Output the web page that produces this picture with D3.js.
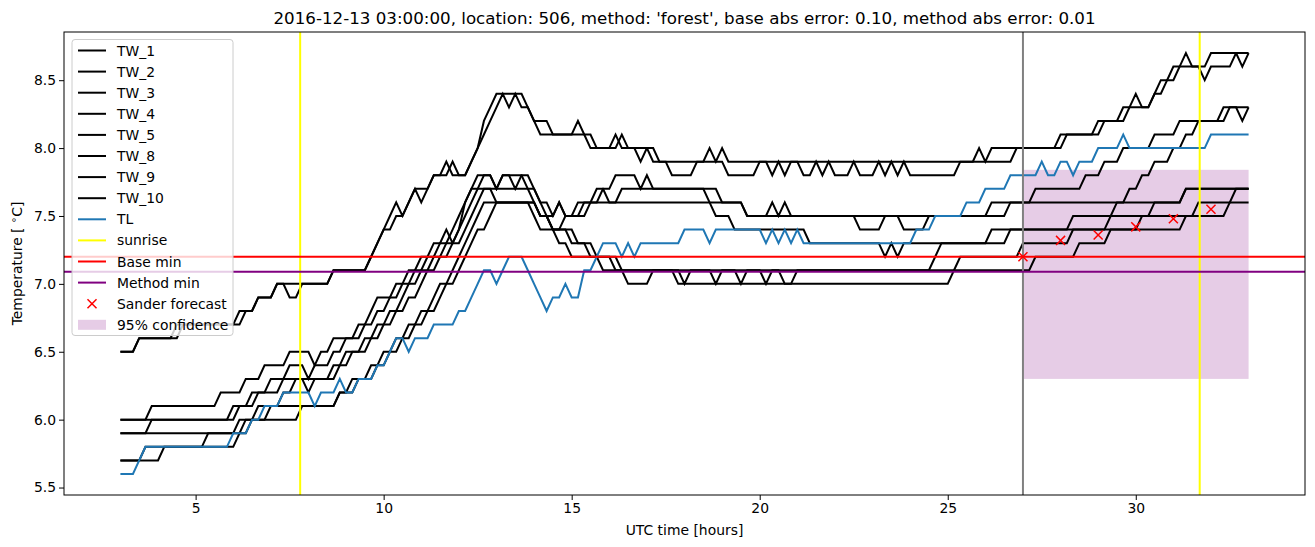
<!DOCTYPE html>
<html>
<head>
<meta charset="utf-8">
<script src="https://cdn.jsdelivr.net/npm/d3@7"></script>
<style>
  body { margin: 0; background: #fff; }
  svg { font-family: "DejaVu Sans", sans-serif; }
</style>
</head>
<body>
<svg id="chart" width="1315" height="547"></svg>
<script>
// step runs: [hour where value is reached, value]
var tw1 = [[3,6.5],[3.5,6.6],[4.5,6.7],[6.17,6.8],[6.67,6.9],[7.17,7.0],[8.67,7.1],[9.67,7.2],[9.83,7.3],[10.0,7.4],[10.17,7.5],[10.33,7.6],[10.5,7.5],[10.67,7.6],[10.83,7.7],[11.33,7.8],[11.67,7.9],[11.83,7.8],[12.33,7.9],[12.5,8.0],[12.67,8.2],[12.83,8.3],[13.0,8.4],[13.83,8.3],[14.0,8.2],[14.17,8.1],[15.17,8.2],[15.33,8.1],[15.5,8.0],[16.17,8.1],[16.33,8.0],[16.83,7.9],[17.0,8.0],[17.33,7.9],[17.67,7.8],[18.33,7.9],[18.67,8.0],[18.83,7.9],[19.0,8.0],[19.17,7.9],[25.83,8.0],[26.0,7.9],[26.17,8.0],[28.0,8.1],[29.0,8.2],[29.67,8.3],[30.0,8.4],[30.17,8.3],[30.5,8.4],[30.67,8.5],[31.0,8.6],[31.33,8.7],[31.5,8.6],[32.0,8.7],[32.83,8.6],[33.0,8.7]];
var tw2 = [[3,6.5],[3.5,6.6],[4.67,6.7],[6.33,6.8],[6.67,6.9],[7.17,7.0],[7.5,6.9],[7.83,7.0],[8.67,7.1],[9.67,7.2],[9.83,7.3],[10.0,7.4],[10.33,7.5],[10.67,7.6],[10.83,7.7],[11.0,7.6],[11.17,7.7],[11.33,7.8],[11.83,7.9],[12.0,7.8],[12.33,7.9],[12.5,8.0],[12.67,8.1],[12.83,8.2],[13.0,8.3],[13.17,8.4],[13.33,8.3],[13.5,8.4],[13.67,8.3],[14.0,8.2],[14.5,8.1],[15.67,8.0],[16.33,8.1],[16.5,8.0],[17.17,7.9],[19.17,7.8],[20.0,7.9],[20.33,7.8],[20.5,7.9],[20.67,7.8],[20.83,7.9],[21.17,7.8],[21.5,7.9],[21.67,7.8],[21.83,7.9],[22.0,7.8],[22.5,7.9],[22.67,7.8],[23.17,7.9],[23.33,7.8],[23.5,7.9],[23.67,7.8],[23.83,7.9],[24.0,7.8],[25.33,7.9],[26.83,8.0],[28.17,8.1],[29.17,8.2],[29.83,8.3],[30.5,8.4],[30.83,8.5],[31.17,8.6],[31.83,8.5],[32.0,8.6],[32.67,8.7]];
var tw3 = [[3,6.0],[3.83,6.1],[5.67,6.2],[6.33,6.3],[6.83,6.4],[7.5,6.5],[8.17,6.4],[8.33,6.5],[8.67,6.6],[9.33,6.7],[9.67,6.8],[9.83,6.9],[10.33,7.0],[10.67,7.1],[11.0,7.2],[11.33,7.3],[11.67,7.4],[11.83,7.3],[12.0,7.4],[12.17,7.6],[12.33,7.7],[12.5,7.8],[13.0,7.7],[13.17,7.8],[13.5,7.7],[13.67,7.8],[14.0,7.7],[14.17,7.6],[14.5,7.5],[14.67,7.6],[14.83,7.5],[15.33,7.6],[15.83,7.7],[16.17,7.8],[16.83,7.7],[17.0,7.8],[17.17,7.7],[19.0,7.6],[19.67,7.5],[20.33,7.6],[20.5,7.5],[20.67,7.6],[20.83,7.5],[26.17,7.6],[27.33,7.7],[28.67,7.8],[29.17,7.9],[29.67,8.0],[30.5,8.1],[31.17,8.2],[32.33,8.3],[32.83,8.2],[33.0,8.3]];
var tw4 = [[3,6.0],[6.0,6.1],[6.5,6.2],[7.0,6.3],[7.5,6.4],[8.0,6.3],[8.17,6.4],[8.67,6.5],[9.0,6.6],[9.5,6.7],[9.83,6.8],[10.17,6.9],[10.5,7.0],[10.83,7.1],[11.17,7.2],[11.5,7.3],[11.83,7.4],[12.0,7.5],[12.17,7.6],[12.33,7.7],[12.67,7.8],[13.0,7.7],[13.17,7.8],[13.83,7.7],[14.17,7.6],[14.33,7.5],[14.67,7.6],[14.83,7.5],[15.5,7.6],[19.67,7.5],[22.67,7.4],[23.33,7.5],[23.83,7.4],[24.5,7.5],[26.67,7.6],[29.83,7.7],[30.17,7.8],[30.5,7.9],[31.0,8.0],[31.33,8.1],[31.67,8.2],[32.5,8.3]];
var tw5 = [[3,5.9],[3.83,6.0],[6.17,6.1],[6.67,6.2],[7.33,6.3],[8.67,6.4],[9.0,6.5],[9.5,6.6],[9.83,6.7],[10.17,6.8],[10.5,6.9],[10.67,7.0],[11.0,7.1],[11.33,7.2],[11.67,7.3],[12.0,7.4],[12.17,7.5],[12.33,7.6],[12.5,7.7],[14.0,7.6],[14.17,7.5],[14.5,7.4],[14.83,7.5],[15.17,7.6],[15.67,7.7],[16.0,7.6],[16.33,7.7],[18.67,7.6],[18.83,7.5],[19.33,7.4],[21.33,7.3],[23.33,7.2],[23.5,7.3],[23.67,7.2],[23.83,7.3],[26.17,7.4],[31.33,7.5],[32.5,7.6]];
var tw8 = [[3,5.9],[6.17,6.0],[6.67,6.1],[7.33,6.2],[7.67,6.3],[8.0,6.2],[8.17,6.3],[8.83,6.4],[9.17,6.5],[9.67,6.6],[10.0,6.7],[10.33,6.8],[10.67,6.9],[11.0,7.0],[11.17,7.1],[11.5,7.2],[11.83,7.3],[12.17,7.4],[12.33,7.5],[12.5,7.6],[12.67,7.7],[13.0,7.6],[14.0,7.5],[14.17,7.4],[15.0,7.3],[15.5,7.2],[16.17,7.1],[18.0,7.0],[18.17,7.1],[18.83,7.0],[19.0,7.1],[19.5,7.0],[19.67,7.1],[20.17,7.0],[20.33,7.1],[20.67,7.0],[21.0,7.1],[24.67,7.2],[24.83,7.3],[26.67,7.4],[28.33,7.5],[29.5,7.6],[31.33,7.7]];
var tw9 = [[3,5.7],[3.67,5.8],[6.17,5.9],[6.5,6.0],[7.0,6.1],[8.83,6.2],[9.17,6.3],[9.67,6.4],[10.0,6.5],[10.33,6.6],[10.67,6.7],[11.0,6.8],[11.33,6.9],[11.5,7.0],[11.83,7.1],[12.0,7.2],[12.17,7.3],[12.33,7.4],[12.5,7.5],[12.67,7.6],[14.17,7.5],[14.5,7.4],[15.17,7.3],[15.67,7.2],[16.33,7.1],[17.83,7.0],[25.17,7.1],[25.33,7.2],[27.0,7.3],[28.33,7.4],[29.33,7.5],[30.5,7.6],[31.33,7.7]];
var tw10 = [[3,5.7],[4.17,5.8],[5.33,5.9],[6.33,6.0],[7.83,6.1],[8.83,6.2],[9.33,6.3],[9.83,6.4],[10.17,6.5],[10.5,6.6],[10.83,6.7],[11.17,6.8],[11.5,6.9],[11.67,7.0],[12.0,7.1],[12.17,7.2],[12.33,7.3],[12.5,7.4],[12.83,7.5],[13.0,7.6],[14.17,7.5],[14.5,7.4],[14.67,7.3],[15.0,7.2],[15.83,7.1],[16.5,7.0],[17.17,7.1],[27.33,7.2],[28.5,7.3],[29.33,7.4],[30.17,7.5],[31.67,7.6],[32.67,7.7]];
var tl = [[3,5.6],[3.5,5.7],[3.67,5.8],[6.0,5.9],[6.5,6.0],[6.83,6.1],[7.33,6.2],[8.17,6.1],[8.33,6.2],[8.83,6.3],[9.0,6.2],[9.33,6.3],[9.83,6.4],[10.17,6.5],[10.33,6.6],[10.67,6.5],[10.83,6.6],[11.33,6.7],[12.0,6.8],[12.33,6.9],[12.5,7.0],[12.67,7.1],[13.0,7.0],[13.17,7.1],[13.33,7.2],[13.83,7.1],[14.0,7.0],[14.17,6.9],[14.33,6.8],[14.5,6.9],[14.83,7.0],[15.0,6.9],[15.33,7.1],[15.67,7.2],[15.83,7.3],[16.33,7.2],[16.5,7.3],[16.67,7.2],[16.83,7.3],[18.0,7.4],[18.67,7.3],[18.83,7.4],[20.17,7.3],[20.33,7.4],[20.5,7.3],[20.67,7.4],[20.83,7.3],[21.0,7.4],[21.17,7.3],[24.17,7.4],[24.67,7.5],[25.5,7.6],[26.0,7.7],[26.67,7.8],[27.5,7.9],[27.67,7.8],[28.0,7.9],[28.33,7.8],[28.5,7.9],[29.0,8.0],[29.67,8.1],[29.83,8.0],[32.0,8.1]];

var twNames = ['TW_1','TW_2','TW_3','TW_4','TW_5','TW_8','TW_9','TW_10'];
var twRuns = [tw1, tw2, tw3, tw4, tw5, tw8, tw9, tw10];

var sunrise = [7.78, 31.7];
var forecastTime = 27.0;
var baseMin = 7.2;
var methodMin = 7.09;
var forecastHours = [27, 28, 29, 30, 31, 32];
var forecastValues = [7.2, 7.32, 7.36, 7.42, 7.48, 7.55];
var confHours = [27, 33];
var confLow = 6.3;
var confHigh = 7.84;

var xTicks = [5, 10, 15, 20, 25, 30];
var yTicks = [5.5, 6.0, 6.5, 7.0, 7.5, 8.0, 8.5];

// 10 minute samples from the runs
function expand(runs) {
    var pts = [];
    for (var k = 0; k <= 180; k++) {
        var t = 3 + k / 6;
        var v = runs[0][1];
        runs.forEach(function (r) { if (r[0] <= t + 0.05) v = r[1]; });
        pts.push([t, v]);
    }
    return pts;
}

var svg = d3.select('#chart');
var pLeft = 64, pRight = 1305, pTop = 32, pBottom = 495;
var lw = 2;

var x = d3.scaleLinear().domain([1.5, 34.5]).range([pLeft, pRight]);
var y = d3.scaleLinear().domain([5.445, 8.855]).range([pBottom, pTop]);

var plot = svg.append('g');

plot.append('rect')
    .attr('x', x(confHours[0])).attr('y', y(confHigh))
    .attr('width', x(confHours[1]) - x(confHours[0]))
    .attr('height', y(confLow) - y(confHigh))
    .attr('fill', 'purple').attr('fill-opacity', 0.2);

var line = d3.line().x(d => x(d[0])).y(d => y(d[1]));

twRuns.forEach(function (runs) {
    plot.append('path')
        .attr('d', line(expand(runs)))
        .attr('fill', 'none').attr('stroke', 'black').attr('stroke-width', lw);
});

plot.append('path')
    .attr('d', line(expand(tl)))
    .attr('fill', 'none').attr('stroke', '#1f77b4').attr('stroke-width', lw);

sunrise.forEach(function (h) {
    plot.append('line')
        .attr('x1', x(h)).attr('x2', x(h)).attr('y1', pTop).attr('y2', pBottom)
        .attr('stroke', 'yellow').attr('stroke-width', lw);
});

plot.append('line')
    .attr('x1', x(forecastTime)).attr('x2', x(forecastTime)).attr('y1', pTop).attr('y2', pBottom)
    .attr('stroke', 'gray').attr('stroke-width', lw);

plot.append('line')
    .attr('x1', pLeft).attr('x2', pRight).attr('y1', y(baseMin)).attr('y2', y(baseMin))
    .attr('stroke', 'red').attr('stroke-width', lw);

plot.append('line')
    .attr('x1', pLeft).attr('x2', pRight).attr('y1', y(methodMin)).attr('y2', y(methodMin))
    .attr('stroke', 'purple').attr('stroke-width', lw);

var cross = d3.symbol().type(d3.symbolX).size(55);
plot.selectAll('.fc')
    .data(forecastHours)
    .join('path')
    .classed('fc', true)
    .attr('d', cross)
    .attr('transform', (d, i) => `translate(${x(d)},${y(forecastValues[i])})`)
    .attr('fill', 'none').attr('stroke', 'red').attr('stroke-width', 1.5);

// axes
var xAxis = svg.append('g')
    .attr('transform', `translate(0,${pBottom})`)
    .call(d3.axisBottom(x).tickValues(xTicks).tickSize(5).tickPadding(3).tickFormat(d3.format('d')));
var yAxis = svg.append('g')
    .attr('transform', `translate(${pLeft},0)`)
    .call(d3.axisLeft(y).tickValues(yTicks).tickSize(5).tickPadding(3).tickFormat(d3.format('.1f')));
[xAxis, yAxis].forEach(function (a) {
    a.select('.domain').remove();
    a.selectAll('text').attr('font-size', 13.9).attr('font-family', 'DejaVu Sans').attr('fill', 'black');
    a.selectAll('line').attr('stroke', 'black').attr('stroke-width', 1);
});

svg.append('rect')
    .attr('x', pLeft).attr('y', pTop).attr('width', pRight - pLeft).attr('height', pBottom - pTop)
    .attr('fill', 'none').attr('stroke', 'black').attr('stroke-width', 1);

svg.append('text')
    .attr('x', (pLeft + pRight) / 2).attr('y', 24)
    .attr('text-anchor', 'middle').attr('font-size', 16.7)
    .text("2016-12-13 03:00:00, location: 506, method: 'forest', base abs error: 0.10, method abs error: 0.01");

svg.append('text')
    .attr('x', (pLeft + pRight) / 2).attr('y', 535)
    .attr('text-anchor', 'middle').attr('font-size', 13.9)
    .text('UTC time [hours]');

var yl = svg.append('text')
    .attr('transform', `translate(22,${(pTop + pBottom) / 2}) rotate(-90)`)
    .attr('text-anchor', 'middle').attr('font-size', 13.9);
yl.append('tspan').text('Temperature [ ');
yl.append('tspan').attr('font-size', 10).attr('dy', -5).text('∘');
yl.append('tspan').attr('dy', 5).text('C]');

// legend
var legendItems = twNames.map(n => ({ name: n, kind: 'line', color: 'black' }))
    .concat([
        { name: 'TL', kind: 'line', color: '#1f77b4' },
        { name: 'sunrise', kind: 'line', color: 'yellow' },
        { name: 'Base min', kind: 'line', color: 'red' },
        { name: 'Method min', kind: 'line', color: 'purple' },
        { name: 'Sander forecast', kind: 'marker', color: 'red' },
        { name: '95% confidence', kind: 'patch', color: 'purple' }
    ]);

var legend = svg.append('g');
legend.append('rect')
    .attr('x', 72).attr('y', 39.5).attr('width', 161).attr('height', 296).attr('rx', 3)
    .attr('fill', 'white').attr('fill-opacity', 0.8).attr('stroke', '#cccccc').attr('stroke-width', 1);

legendItems.forEach(function (d, i) {
    var cy = 50.5 + i * 21.1;
    var g = legend.append('g');
    if (d.kind === 'line') {
        g.append('line').attr('x1', 78).attr('x2', 106).attr('y1', cy).attr('y2', cy)
            .attr('stroke', d.color).attr('stroke-width', lw);
    } else if (d.kind === 'marker') {
        g.append('path').attr('d', cross).attr('transform', `translate(92,${cy})`)
            .attr('fill', 'none').attr('stroke', d.color).attr('stroke-width', 1.5);
    } else {
        g.append('rect').attr('x', 78).attr('y', cy - 5).attr('width', 28).attr('height', 10)
            .attr('fill', d.color).attr('fill-opacity', 0.2);
    }
    g.append('text').attr('x', 117).attr('y', cy + 5).attr('font-size', 13.9).text(d.name);
});
</script>
</body>
</html>
